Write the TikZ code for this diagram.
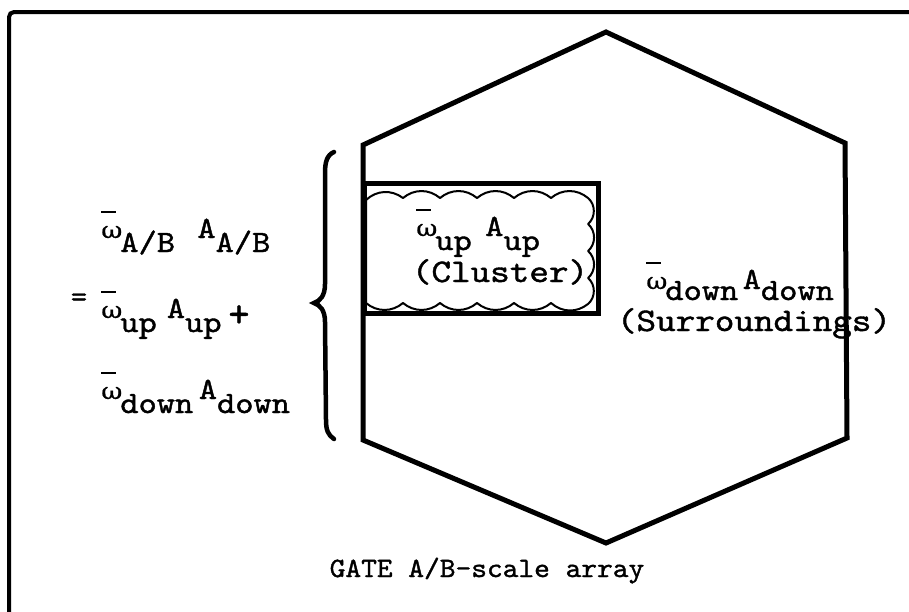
\documentclass[tikz,border=0pt]{standalone}
\usepackage{fontspec}
\usepackage{graphicx}
\newfontfamily\grk{DejaVu Serif}[FakeBold=0.8]
% typewriter face with a heavier ribbon stroke
\newfontfamily\tw{lmmono10-regular.otf}[FakeBold=1.2]
% typewriter text, slightly widened
\newcommand\tws[1]{\scalebox{1.12}[1]{#1}}
% omega with an overbar, in a typewriter cell
\newcommand\wbar{\makebox[18pt][l]{\hspace{1pt}\makebox[0pt][l]{\raisebox{25pt}{\rule{13pt}{2.2pt}}}{\grk\fontsize{23}{23}\selectfont ω}}}
% letter typed half a line up
\newcommand\hi[1]{\raisebox{14pt}{#1}}
\newcommand\hilow[1]{\raisebox{11pt}{#1}}
\begin{document}
\begin{tikzpicture}[x=1pt,y=-1pt,
  frame/.style={line width=4pt, rounded corners=5pt},
  hexline/.style={line width=5pt, line join=miter},
  clusterbox/.style={line width=5pt},
  cloudline/.style={line width=2pt, line join=round},
  bracepath/.style={line width=4.5pt, line cap=round},
  lbl/.style={inner sep=0pt, anchor=base west, font=\fontsize{31}{34}\selectfont\tw},
  note/.style={inner sep=0pt, anchor=base, font=\fontsize{33}{36}\selectfont\tw},
  sym/.style={inner sep=0pt, anchor=center, font=\fontsize{31}{34}\selectfont\tw},
]
\useasboundingbox (0,0) rectangle (909,611);
\clip (0,0) rectangle (909,611);

% outer frame (runs off the right and bottom)
\draw[frame] (9,650) -- (9,12) -- (950,12);

% hexagonal array
\coordinate (hT)  at (606,32);
\coordinate (hUR) at (845,143);
\coordinate (hLR) at (847,438);
\coordinate (hB)  at (606,543);
\coordinate (hLL) at (363,440);
\coordinate (hUL) at (363,145);
\draw[hexline] (hT) -- (hUR) -- (hLR) -- (hB) -- (hLL) -- (hUL) -- cycle;

% cluster box and cloud outline
\draw[clusterbox] (364,183) rectangle (598,313);
\draw[cloudline] (366,200)
  \foreach \x in {403,440,477,514,551,588} { to[bend left=40] (\x,198) }
  \foreach \y in {224,251,278,304} { to[bend left=50] (588,\y) }
  \foreach \x in {551,514,477,440,403,366} { to[bend left=40] (\x,303) }
  -- cycle;

% curly brace
\draw[bracepath] (334,152) .. controls (327,155) and (325,162) .. (325,173)
  -- (325,284) .. controls (325,296) and (320,301) .. (314,303)
  .. controls (320,305) and (325,310) .. (325,322)
  -- (326,420) .. controls (326,430) and (328,435) .. (334,439);

% area-weighted mean
\node[lbl] (f1) at (100,252) {\tws{\hi{\wbar}A/B\hspace{20pt}\hi{A}A/B}};
\node[sym] (eq) at (79,300) {=};
\node[lbl] (f2) at (100,332) {\tws{\hi{\wbar}up\hspace{9pt}\hi{A}up}};
\node[sym, font=\fontsize{40}{40}\selectfont\tw] (plus) at (239,316) {+};
\node[lbl] (f3) at (100,413) {\tws{\hi{\wbar}down\hspace{5pt}\hi{A}down}};

% cluster
\node[lbl] (cw) at (415,250) {\tws{\hi{\wbar}up\hspace{12pt}\hi{A}up}};
\node[note] (cl) at (500,282) {\scalebox{1.13}[1]{(Cluster)}};

% surroundings
\node[lbl] (dw) at (645,300) {\tws{\hilow{\wbar}down\hspace{4pt}\hilow{A}down}};
\node[note] (sr) at (754,331) {\scalebox{1.13}[1]{(Surroundings)}};

% caption
\node[inner sep=0pt, anchor=base, font=\fontsize{28}{32}\selectfont\tw] (gate) at (487,577)
  {\scalebox{1.07}[1]{GATE A/B-scale array}};
\end{tikzpicture}
\end{document}
